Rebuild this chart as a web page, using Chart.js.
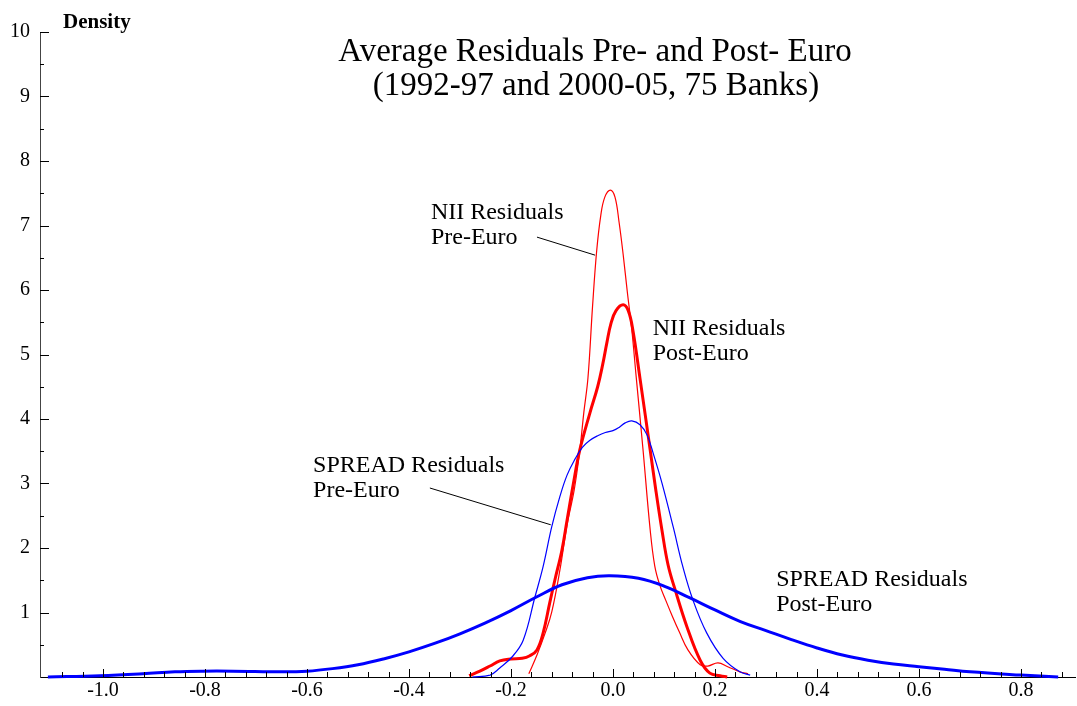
<!DOCTYPE html>
<html lang="en">
<head>
<meta charset="UTF-8">
<title>Average Residuals Pre- and Post- Euro</title>
<script src="https://cdn.jsdelivr.net/npm/chart.js"></script>
<style>
  body { margin: 0; background: #fff; }
  canvas { display: block; }
</style>
</head>
<body>
<canvas id="kde" width="1077" height="706"></canvas>
<script>
// kernel density estimates
const niiPreX = [-0.165, -0.149, -0.133, -0.120, -0.104, -0.090, -0.076, -0.065, -0.057, -0.049, -0.040, -0.032, -0.024, -0.016, -0.005,
                 0.004, 0.012, 0.020, 0.028, 0.037, 0.045, 0.059, 0.073, 0.082, 0.092, 0.104, 0.116, 0.130, 0.147, 0.171, 0.186, 0.206, 0.225, 0.249, 0.265];
const niiPreY = [0.05, 0.34, 0.68, 1.01, 1.66, 2.36, 2.90, 3.52, 4.11, 4.64, 5.75, 6.60, 7.15, 7.44, 7.55,
                 7.44, 7.05, 6.55, 5.98, 5.38, 4.70, 3.52, 2.28, 1.72, 1.42, 1.18, 0.95, 0.70, 0.42, 0.19, 0.17, 0.22, 0.16, 0.08, 0.05];

const niiPostX = [-0.282, -0.261, -0.241, -0.222, -0.200, -0.178, -0.163, -0.149, -0.137, -0.124, -0.114, -0.100, -0.090, -0.078, -0.065,
                  -0.045, -0.030, -0.020, -0.012, -0.004, 0.006, 0.020, 0.030, 0.039, 0.053, 0.073, 0.084, 0.096, 0.108, 0.122, 0.145, 0.171, 0.190, 0.210, 0.224];
const niiPostY = [0.02, 0.09, 0.17, 0.25, 0.28, 0.29, 0.33, 0.42, 0.68, 1.15, 1.50, 1.97, 2.43, 2.98, 3.52,
                  4.10, 4.50, 4.85, 5.18, 5.48, 5.68, 5.77, 5.68, 5.38, 4.63, 3.52, 2.90, 2.28, 1.74, 1.35, 0.78, 0.26, 0.06, 0.02, 0.0];

const spreadPreX = [-0.276, -0.241, -0.222, -0.198, -0.176, -0.153, -0.137, -0.120, -0.104, -0.090, -0.075, -0.060, -0.045, -0.030, -0.015,
                    0.000, 0.012, 0.024, 0.037, 0.053, 0.067, 0.080, 0.096, 0.118, 0.137, 0.157, 0.184, 0.216, 0.249, 0.269];
const spreadPreY = [0.0, 0.03, 0.14, 0.31, 0.57, 1.24, 1.71, 2.33, 2.80, 3.13, 3.37, 3.56, 3.67, 3.74, 3.79,
                    3.82, 3.87, 3.94, 3.97, 3.91, 3.75, 3.44, 3.01, 2.33, 1.71, 1.19, 0.68, 0.29, 0.08, 0.03];

const spreadPostX = [-1.108, -1.006, -0.922, -0.859, -0.804, -0.745, -0.647, -0.600, -0.550, -0.500, -0.450, -0.400, -0.350, -0.300, -0.250,
                     -0.200, -0.150, -0.100, -0.050, -0.006, 0.050, 0.100, 0.150, 0.200, 0.250, 0.300, 0.350, 0.400, 0.450, 0.500,
                     0.550, 0.600, 0.650, 0.700, 0.800, 0.873];
const spreadPostY = [0.0, 0.02, 0.05, 0.08, 0.09, 0.09, 0.08, 0.09, 0.13, 0.19, 0.28, 0.39, 0.52, 0.67, 0.84,
                     1.03, 1.24, 1.43, 1.54, 1.57, 1.53, 1.41, 1.23, 1.04, 0.86, 0.72, 0.58, 0.45, 0.34, 0.26,
                     0.20, 0.16, 0.12, 0.08, 0.03, 0.0];

const xTickValues = [-1.0, -0.8, -0.6, -0.4, -0.2, 0.0, 0.2, 0.4, 0.6, 0.8];
const yTickValues = [1, 2, 3, 4, 5, 6, 7, 8, 9, 10];

// callout labels, anchored in data units
const notes = [
  { lines: ['NII Residuals', 'Pre-Euro'], x: -0.357, y: 7.10, leader: [[-0.149, 6.82], [-0.035, 6.54]] },
  { lines: ['NII Residuals', 'Post-Euro'], x: 0.078, y: 5.31 },
  { lines: ['SPREAD Residuals', 'Pre-Euro'], x: -0.588, y: 3.18, leader: [[-0.359, 2.93], [-0.122, 2.36]] },
  { lines: ['SPREAD Residuals', 'Post-Euro'], x: 0.320, y: 1.41 }
];

const SERIF = '"Liberation Serif", "Times New Roman", serif';

function pts(xs, ys) {
  return xs.map((v, i) => ({ x: v, y: ys[i] }));
}

function curve(label, xs, ys, color, width) {
  return {
    label: label,
    data: pts(xs, ys),
    borderColor: color,
    borderWidth: width,
    pointRadius: 0,
    showLine: true,
    fill: false,
    tension: 0.4,
    clip: false
  };
}

const decor = {
  id: 'decor',
  afterDraw(chart) {
    const { ctx, chartArea: a, scales: { x, y } } = chart;
    ctx.save();

    // inward tick marks
    ctx.strokeStyle = '#000';
    ctx.lineWidth = 1;
    ctx.beginPath();
    for (let i = -27; i <= 22; i++) {
      const px = Math.round(x.getPixelForValue(i * 0.04)) + 0.5;
      const len = i % 5 === 0 ? 8 : 5;
      ctx.moveTo(px, a.bottom);
      ctx.lineTo(px, a.bottom - len);
    }
    for (let j = 1; j <= 20; j++) {
      const py = Math.round(y.getPixelForValue(j * 0.5)) + 0.5;
      const len = j % 2 === 0 ? 9 : 4;
      ctx.moveTo(a.left, py);
      ctx.lineTo(a.left + len, py);
    }
    ctx.stroke();

    // titles
    ctx.fillStyle = '#000';
    ctx.textBaseline = 'alphabetic';
    ctx.textAlign = 'center';
    ctx.font = '33px ' + SERIF;
    ctx.fillText('Average Residuals Pre- and Post- Euro', 595, 61);
    ctx.fillText('(1992-97 and 2000-05, 75 Banks)', 596, 95);
    ctx.textAlign = 'left';
    ctx.font = 'bold 21px ' + SERIF;
    ctx.fillText('Density', 63, 28);

    // callouts
    ctx.font = '24px ' + SERIF;
    notes.forEach(n => {
      const px = x.getPixelForValue(n.x);
      const py = y.getPixelForValue(n.y);
      n.lines.forEach((t, k) => ctx.fillText(t, px, py + k * 25));
      if (n.leader) {
        ctx.beginPath();
        ctx.moveTo(x.getPixelForValue(n.leader[0][0]), y.getPixelForValue(n.leader[0][1]));
        ctx.lineTo(x.getPixelForValue(n.leader[1][0]), y.getPixelForValue(n.leader[1][1]));
        ctx.stroke();
      }
    });
    ctx.restore();
  }
};

new Chart(document.getElementById('kde'), {
  type: 'scatter',
  data: {
    datasets: [
      curve('SPREAD Post-Euro', spreadPostX, spreadPostY, '#0000ff', 3),
      curve('SPREAD Pre-Euro', spreadPreX, spreadPreY, '#0000ff', 1.2),
      curve('NII Post-Euro', niiPostX, niiPostY, '#ff0000', 3),
      curve('NII Pre-Euro', niiPreX, niiPreY, '#ff0000', 1.2)
    ]
  },
  options: {
    responsive: false,
    animation: false,
    layout: { padding: { top: 32, right: 2, left: 0, bottom: 0 } },
    plugins: { legend: { display: false }, tooltip: { enabled: false } },
    scales: {
      x: {
        type: 'linear',
        min: -1.1235,
        max: 0.906,
        afterFit: s => { s.height = 29; },
        afterBuildTicks: s => { s.ticks = xTickValues.map(v => ({ value: v })); },
        grid: { display: false, drawTicks: false },
        border: { display: true, color: '#000', width: 1 },
        ticks: {
          padding: 2,
          color: '#000',
          font: { family: SERIF, size: 20 },
          maxRotation: 0,
          autoSkip: false,
          callback: v => v.toFixed(1)
        }
      },
      y: {
        min: 0,
        max: 10,
        afterFit: s => { s.width = 40; },
        afterBuildTicks: s => { s.ticks = yTickValues.map(v => ({ value: v })); },
        grid: { display: false, drawTicks: false },
        border: { display: true, color: '#444', width: 1 },
        ticks: {
          padding: 10,
          color: '#000',
          font: { family: SERIF, size: 20 },
          callback: v => String(v)
        }
      }
    }
  },
  plugins: [decor]
});
</script>
</body>
</html>
